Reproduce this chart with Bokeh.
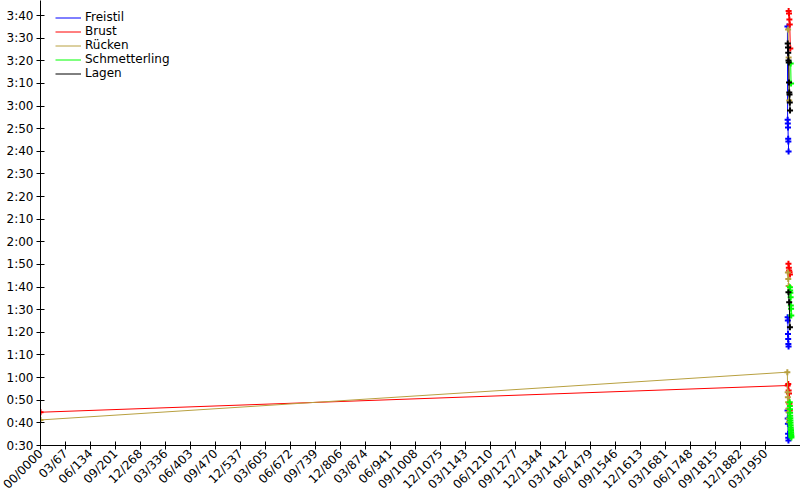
import math
from bokeh.plotting import figure
from bokeh.models import FixedTicker, ColumnDataSource, Range1d, Legend, LegendItem
from bokeh.embed import file_html
from bokeh.resources import INLINE

NaN = float("nan")

# ---- tick labels -------------------------------------------------------
x_tick_labels = ["00/0000", "03/67", "06/134", "09/201", "12/268", "03/336",
                 "06/403", "09/470", "12/537", "03/605", "06/672", "09/739",
                 "12/806", "03/874", "06/941", "09/1008", "12/1075", "03/1143",
                 "06/1210", "09/1277", "12/1344", "03/1412", "06/1479",
                 "09/1546", "12/1613", "03/1681", "06/1748", "09/1815",
                 "12/1882", "03/1950"]
x_tick_step_years = 67.25

y_tick_values = [30, 40, 50, 60, 70, 80, 90, 100, 110, 120, 130, 140, 150,
                 160, 170, 180, 190, 200, 210, 220]
y_tick_labels = ["0:30", "0:40", "0:50", "1:00", "1:10", "1:20", "1:30",
                 "1:40", "1:50", "2:00", "2:10", "2:20", "2:30", "2:40",
                 "2:50", "3:00", "3:10", "3:20", "3:30", "3:40"]

# ---- series (date in years, time in seconds); NaN separates distances ---
strokes = ["Freistil", "Brust", "Rücken", "Schmetterling", "Lagen"]
colors = ["#0000ff", "#ff0000", "#b8a040", "#00ff00", "#000000"]

freistil_years = [2009.5, 2010.0, 2010.5, 2011.0, 2011.5, 2012.0, NaN,
                  2009.8, 2010.3, 2010.8, 2011.3, 2011.8, 2012.3, NaN,
                  2009.3, 2009.8, 2010.3, 2010.8, 2011.3, 2011.8, 2012.3]
freistil_times = [45.5, 41.9, 39.6, 35.2, 33.4, 32.2, NaN,
                  86.7, 85.2, 79.3, 77.1, 74.9, 73.8, NaN,
                  215.1, 174.0, 172.3, 170.5, 165.6, 164.3, 159.9]

brust_years = [0.0, 2010.0, 2011.5, 2012.5, 2013.5, 2014.5, 2015.5, NaN,
               2012.0, 2013.0, 2014.0, 2015.0, 2016.0, NaN,
               2012.5, 2013.5, 2014.5, 2015.5, 2017.0]
brust_times = [44.7, 56.5, 57.2, 54.3, 53.0, 48.4, 45.5, NaN,
               110.3, 108.5, 107.3, 106.6, 105.6, NaN,
               222.0, 220.9, 218.2, 216.0, 205.4]

ruecken_years = [0.0, 2009.0, 2009.8, 2010.4, 2011.0, 2011.6, 2012.2, 2012.8,
                 2013.4, NaN,
                 2010.5, 2011.5, 2012.5, NaN,
                 2011.0, 2012.5, 2014.0]
ruecken_times = [41.3, 62.4, 53.5, 51.3, 49.1, 46.2, 44.7, 41.8, 40.3, NaN,
                 106.5, 103.6, 100.5, NaN,
                 213.8, 201.4, 182.4]

schmetterling_years = [2015.5, 2015.8, 2016.1, 2016.4, 2016.7, 2017.0, 2017.3,
                       2017.6, 2017.9, 2018.2, 2018.5, 2018.8, 2019.1, 2019.4,
                       2019.7, 2020.0, NaN,
                       2016.0, 2016.6, 2017.2, 2017.8, 2018.4, 2019.0, 2019.6,
                       NaN,
                       2018.0, 2019.0]
schmetterling_times = [49.1, 47.5, 46.0, 44.5, 43.2, 42.0, 41.0, 40.0, 39.0,
                       38.0, 37.2, 36.5, 35.7, 35.0, 34.2, 33.5, NaN,
                       99.9, 98.5, 97.5, 95.5, 91.9, 90.4, 87.4, NaN,
                       198.8, 190.0]

lagen_years = [2012.0, 2014.0, 2016.0, NaN,
               2010.0, 2010.7, 2011.4, 2012.1, 2012.8, 2013.5, 2014.2,
               2014.9, 2015.6, 2016.3]
lagen_times = [97.7, 93.3, 82.3, NaN,
               207.6, 205.9, 203.6, 200.1, 199.2, 190.4, 186.0, 185.1,
               181.6, 178.0]

series_years = [freistil_years, brust_years, ruecken_years,
                schmetterling_years, lagen_years]
series_times = [freistil_times, brust_times, ruecken_times,
                schmetterling_times, lagen_times]

# ---- figure --------------------------------------------------------------
px_per_year = 25.0 / x_tick_step_years
px_per_sec = 2.263
fig_w, fig_h = 800, 500
left, bottom = 40, 55
frame_w = fig_w - left
frame_h = fig_h - bottom

p = figure(width=fig_w, height=fig_h,
           x_range=Range1d(0, frame_w / px_per_year),
           y_range=Range1d(30, 30 + frame_h / px_per_sec),
           min_border_left=left, min_border_right=0, min_border_top=0,
           min_border_bottom=bottom,
           output_backend="svg", toolbar_location=None)
p.outline_line_color = None
p.xgrid.visible = False
p.ygrid.visible = False
p.background_fill_color = "white"
p.border_fill_color = "white"

font = "DejaVu Sans"

x_ticks = [i * x_tick_step_years for i in range(len(x_tick_labels))]
p.xaxis.ticker = FixedTicker(ticks=x_ticks)
p.xaxis.major_label_overrides = {t: l for t, l in zip(x_ticks, x_tick_labels)}
p.xaxis.major_label_orientation = math.pi / 4
p.yaxis.ticker = FixedTicker(ticks=y_tick_values)
p.yaxis.major_label_overrides = {t: l for t, l in zip(y_tick_values, y_tick_labels)}

for ax in (p.xaxis, p.yaxis):
    ax.major_tick_in = 4
    ax.major_tick_out = 4
    ax.minor_tick_line_color = None
    ax.axis_line_color = "black"
    ax.major_tick_line_color = "black"
    ax.major_label_text_font = font
    ax.major_label_text_font_size = "12px"
    ax.major_label_text_color = "black"
p.xaxis.major_label_standoff = 2
p.yaxis.major_label_standoff = 3

items = []
for name, col, xs, ys in zip(strokes, colors, series_years, series_times):
    src = ColumnDataSource(data=dict(x=xs, y=ys))
    r = p.line("x", "y", source=src, line_color=col, line_width=1)
    p.scatter("x", "y", source=src, marker="cross", size=6, line_width=2,
              line_color=col)
    items.append(LegendItem(label=name, renderers=[r]))

legend = Legend(items=items, location=(15, frame_h - 14 - 66),
                border_line_color=None, background_fill_alpha=0,
                padding=0, margin=0, spacing=-1,
                glyph_width=26, glyph_height=13, label_height=13,
                label_standoff=4,
                label_text_font=font, label_text_font_size="12px",
                label_text_color="black",
                label_text_line_height=1.0)
p.add_layout(legend, "center")

open("out.html", "w").write(file_html(p, INLINE))
